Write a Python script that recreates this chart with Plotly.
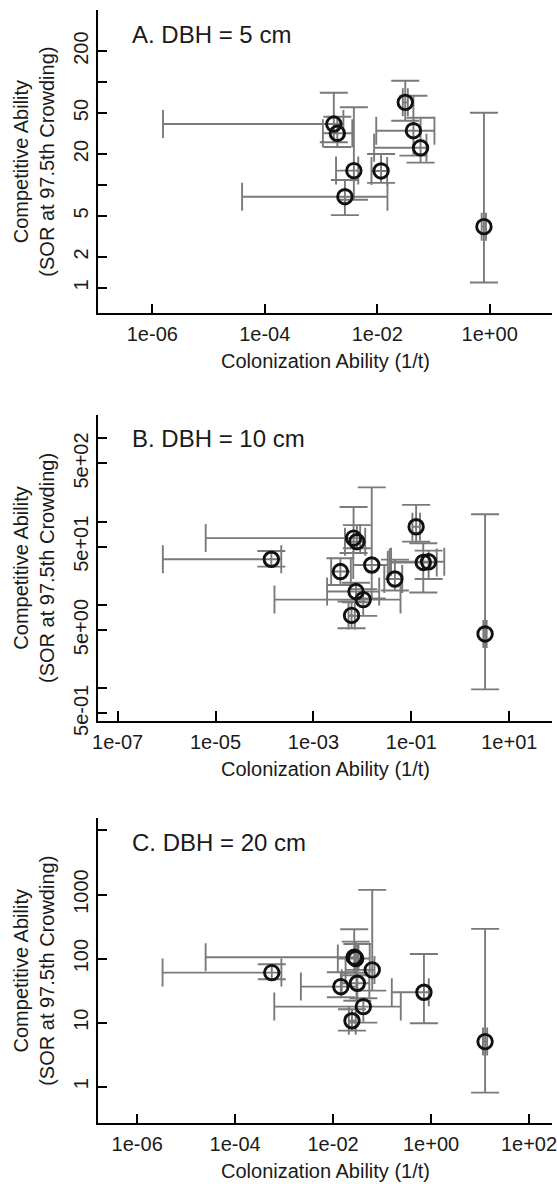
import plotly.graph_objects as go
import numpy as np

# ---------------- data ----------------
# Panel A: DBH = 5 cm
a_x = [1.69e-3, 1.95e-3, 3.84e-3, 2.66e-3, 1.17e-2, 3.15e-2, 4.40e-2, 5.89e-2, 0.79]
a_x_lo = [1.55e-6, 1.08e-3, 1.85e-3, 3.95e-5, 7.9e-3, 2.85e-2, 9.6e-3, 8.8e-3, 0.72]
a_x_hi = [2.5e-3, 3.6e-3, 4.6e-3, 1.52e-2, 1.5e-2, 3.5e-2, 0.104, 7.5e-2, 0.86]
a_y = [39.1, 31.8, 13.8, 7.7, 13.7, 63.5, 33.7, 23.0, 3.94]
a_y_lo = [26.0, 23.4, 7.2, 5.1, 10.5, 42.1, 19.3, 16.5, 1.13]
a_y_hi = [78.8, 46.0, 57.0, 11.2, 20.0, 103.0, 73.7, 45.0, 50.4]

# Panel B: DBH = 10 cm
b_x = [1.38e-4, 6.6e-3, 7.7e-3, 1.55e-2, 3.55e-3, 4.6e-2, 0.125, 0.175, 0.225, 7.4e-3, 1.04e-2, 6.0e-3, 3.2]
b_x_lo = [8.4e-7, 6.3e-6, 4.4e-3, 6.5e-3, 2.3e-3, 2.8e-2, 0.105, 3.6e-2, 3.85e-2, 1.9e-3, 1.6e-4, 5.2e-3, 2.95]
b_x_hi = [2.2e-4, 9.0e-3, 1.14e-2, 3.3e-2, 5.8e-3, 6.5e-2, 0.15, 0.33, 0.47, 2.2e-2, 6.0e-2, 7.0e-3, 3.45]
b_y = [35.4, 63.5, 57.5, 30.2, 25.2, 20.5, 87.0, 32.4, 33.0, 14.5, 11.6, 7.5, 4.49]
b_y_lo = [28.9, 42.0, 48.0, 12.0, 17.4, 14.9, 57.6, 14.1, 20.5, 10.8, 7.4, 5.25, 0.97]
b_y_hi = [44.5, 150.0, 91.0, 258.0, 36.4, 35.0, 159.0, 55.0, 45.0, 18.5, 15.5, 11.0, 123.0]

# Panel C: DBH = 20 cm
c_x = [5.6e-4, 2.7e-2, 2.9e-2, 6.3e-2, 1.44e-2, 3.13e-2, 0.716, 4.15e-2, 2.43e-2, 12.7]
c_x_lo = [3.3e-6, 2.5e-5, 1.25e-2, 1.8e-2, 2.2e-3, 1.5e-2, 0.158, 6.3e-4, 2.1e-2, 11.5]
c_x_hi = [8.8e-4, 3.3e-2, 5.6e-2, 7.0e-2, 3.0e-2, 5.5e-2, 0.9, 0.241, 2.9e-2, 14.0]
c_y = [60.4, 105.0, 100.0, 66.5, 36.5, 41.2, 29.8, 17.8, 10.7, 5.05]
c_y_lo = [47.5, 60.0, 55.0, 31.6, 24.9, 22.0, 9.77, 10.0, 7.5, 0.806]
c_y_hi = [81.5, 287.0, 184.0, 1183.0, 61.0, 169.0, 118.0, 24.0, 16.2, 291.0]

panel_titles = ["A. DBH = 5 cm", "B. DBH = 10 cm", "C. DBH = 20 cm"]
x_title = "Colonization Ability (1/t)"
y_title = "Competitive Ability<br>(SOR at 97.5th Crowding)"

a_xticks = [1e-6, 1e-4, 1e-2, 1]
a_xtext = ["1e-06", "1e-04", "1e-02", "1e+00"]
b_xticks = [1e-7, 1e-5, 1e-3, 1e-1, 10]
b_xtext = ["1e-07", "1e-05", "1e-03", "1e-01", "1e+01"]
c_xticks = [1e-6, 1e-4, 1e-2, 1, 100]
c_xtext = ["1e-06", "1e-04", "1e-02", "1e+00", "1e+02"]

a_yticks = [1, 2, 5, 10, 20, 50, 100, 200, 500]
a_ytext = ["1", "2", "5", "", "20", "50", "", "200", ""]
b_yticks = [0.5, 1, 5, 10, 50, 100, 500, 1000]
b_ytext = ["5e-01", "", "5e+00", "", "5e+01", "", "5e+02", ""]
c_yticks = [1, 10, 100, 1000, 10000]
c_ytext = ["1", "10", "100", "1000", ""]

# ---------------- layout geometry (pixels) ----------------
W, H = 557, 1184
x_left, x_right = 98, 552
panels_px = [(10, 313.3), (415, 721), (818.3, 1123.3)]
x_ranges = [[-6.966, 1.108], [-7.40, 1.872], [-6.80, 2.47]]
y_ranges = [[-0.246, 2.70], [-0.393, 3.281], [-0.572, 4.19]]

FONT = "Liberation Sans, Arial, Helvetica, sans-serif"
TXT = "#1a1a1a"
ERR = "#7a7a7a"

data = [
    (a_x, a_x_lo, a_x_hi, a_y, a_y_lo, a_y_hi, a_xticks, a_xtext, a_yticks, a_ytext),
    (b_x, b_x_lo, b_x_hi, b_y, b_y_lo, b_y_hi, b_xticks, b_xtext, b_yticks, b_ytext),
    (c_x, c_x_lo, c_x_hi, c_y, c_y_lo, c_y_hi, c_xticks, c_xtext, c_yticks, c_ytext),
]

fig = go.Figure()
annotations = []
for i, (x, xlo, xhi, y, ylo, yhi, xt, xtt, yt, ytt) in enumerate(data):
    n = i + 1
    xa = "x" if n == 1 else f"x{n}"
    ya = "y" if n == 1 else f"y{n}"
    x = np.array(x); y = np.array(y)
    fig.add_trace(go.Scatter(
        x=x, y=y, mode="markers", xaxis=xa, yaxis=ya, showlegend=False,
        marker=dict(symbol="circle-open", size=14.5, color="#111111",
                    line=dict(width=2.9, color="#111111")),
        error_x=dict(type="data", symmetric=False,
                     array=np.array(xhi) - x, arrayminus=x - np.array(xlo),
                     color=ERR, thickness=1.9, width=14),
        error_y=dict(type="data", symmetric=False,
                     array=np.array(yhi) - y, arrayminus=y - np.array(ylo),
                     color=ERR, thickness=1.9, width=14),
    ))
    top, bot = panels_px[i]
    ydom = [1 - bot / H, 1 - top / H]
    xdom = [x_left / W, x_right / W]
    axcommon = dict(showline=True, linecolor="#000000", linewidth=1.6,
                    ticks="inside", tickcolor="#000000", tickwidth=1.6,
                    showgrid=False, zeroline=False, mirror=False,
                    tickfont=dict(family=FONT, size=20, color=TXT))
    fig.update_layout(**{
        ("xaxis" if n == 1 else f"xaxis{n}"): dict(
            type="log", range=x_ranges[i], domain=xdom, anchor=ya,
            tickvals=xt, ticktext=xtt, ticklen=10, ticklabelstandoff=2,
            ticklabeloverflow="allow", **axcommon),
        ("yaxis" if n == 1 else f"yaxis{n}"): dict(
            type="log", range=y_ranges[i], domain=ydom, anchor=xa,
            tickvals=yt, ticktext=ytt, ticklen=9, tickangle=-90,
            ticklabelstandoff=0, ticklabeloverflow="allow", **axcommon),
    })
    annotations.append(dict(text=panel_titles[i], x=130 / W, y=1 - (top + 24) / H,
                            xref="paper", yref="paper", xanchor="left", yanchor="middle",
                            showarrow=False, font=dict(family=FONT, size=24, color=TXT)))
    annotations.append(dict(text=x_title, x=(x_left + x_right) / 2 / W, y=1 - (bot + 48) / H,
                            xref="paper", yref="paper", xanchor="center", yanchor="middle",
                            showarrow=False, font=dict(family=FONT, size=20, color=TXT)))
    annotations.append(dict(text=y_title, x=34 / W, y=1 - (top + bot) / 2 / H,
                            xref="paper", yref="paper", xanchor="center", yanchor="middle",
                            textangle=-90, showarrow=False,
                            font=dict(family=FONT, size=20, color=TXT)))

fig.update_layout(width=W, height=H, margin=dict(l=0, r=0, t=0, b=0, autoexpand=False),
                  paper_bgcolor="white", plot_bgcolor="white",
                  annotations=annotations, font=dict(family=FONT, color=TXT))
fig.write_html("out.html", config={"displayModeBar": False},
               post_script="document.body.style.margin='0px';document.body.style.overflow='hidden';")
